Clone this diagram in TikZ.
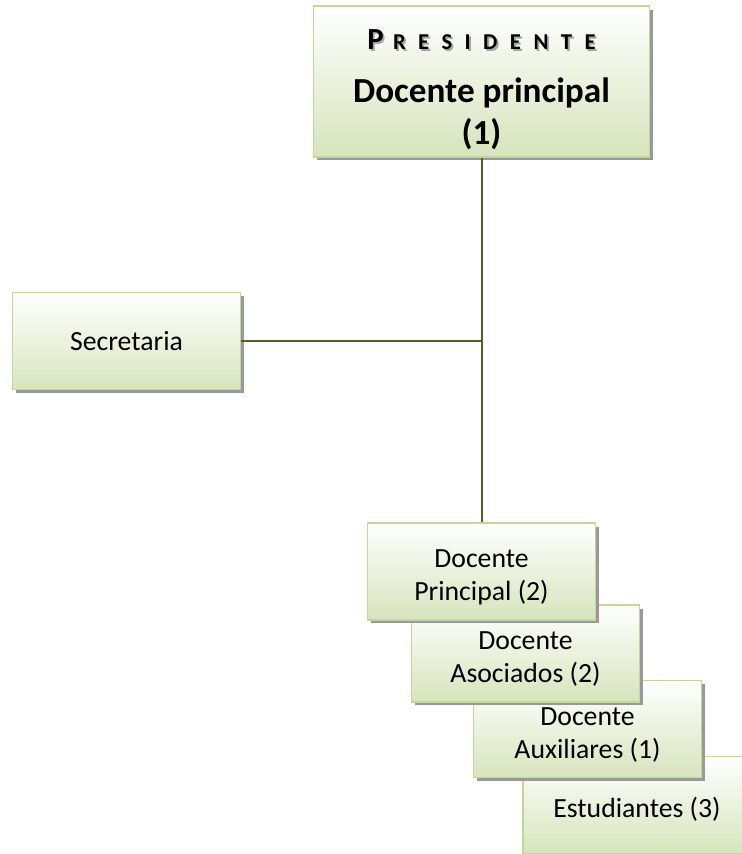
\documentclass[tikz,border=0pt]{standalone}
\usepackage{fontspec}
\setmainfont{Carlito}
\usetikzlibrary{shadows}
\definecolor{borde}{HTML}{C3D69B}
\definecolor{relleno}{HTML}{D7E4BD}
\definecolor{linea}{HTML}{4F6228}
\newcommand{\sombra}[1]{\leavevmode\rlap{\hspace{1.4pt}\raisebox{-1.4pt}{\color{black!35}#1}}#1}
\newcommand{\alto}{\rule{0pt}{22pt}}
\tikzset{caja/.style={draw=borde,line width=1.2pt,top color=white,bottom color=relleno,
    drop shadow={shadow xshift=2.5pt,shadow yshift=-2.5pt,fill=black!40,opacity=1},
    align=center,inner sep=0pt,minimum width=171pt,minimum height=72.5pt,
    font=\fontsize{20.8}{25}\selectfont},
  conector/.style={draw=linea,line width=1.5pt}}

\begin{document}
\begin{tikzpicture}[x=0.75pt,y=-0.75pt]
\useasboundingbox (0,0) rectangle (742,854);
\node[caja,minimum width=252pt,minimum height=113pt,font=\bfseries\fontsize{26.4}{31.5}\selectfont]
  (pres) at (481.5,81.5)
  {\rule{0pt}{27pt}\sombra{\fontsize{23}{23}\selectfont P}\hspace{7pt}%
   \sombra{\fontsize{17}{17}\selectfont\addfontfeatures{LetterSpace=55}RESIDENTE}\\[8pt]
   Docente principal\\(1)};
\node[caja] (secr) at (126.5,341) {Secretaria};
% docentes, de abajo hacia arriba
\node[caja] (estu) at (637,805) {\alto Estudiantes (3)};
\node[caja] (auxi) at (587.5,729) {\alto Docente\\Auxiliares (1)};
\node[caja] (asoc) at (525.5,653.5) {\alto Docente\\Asociados (2)};
\node[caja] (prin) at (481.5,571.5) {\alto Docente\\Principal (2)};
\draw[conector] (pres.south) -- (prin.north);
\draw[conector] (secr.east) -- (secr.east -| pres.south);
\end{tikzpicture}
\end{document}
